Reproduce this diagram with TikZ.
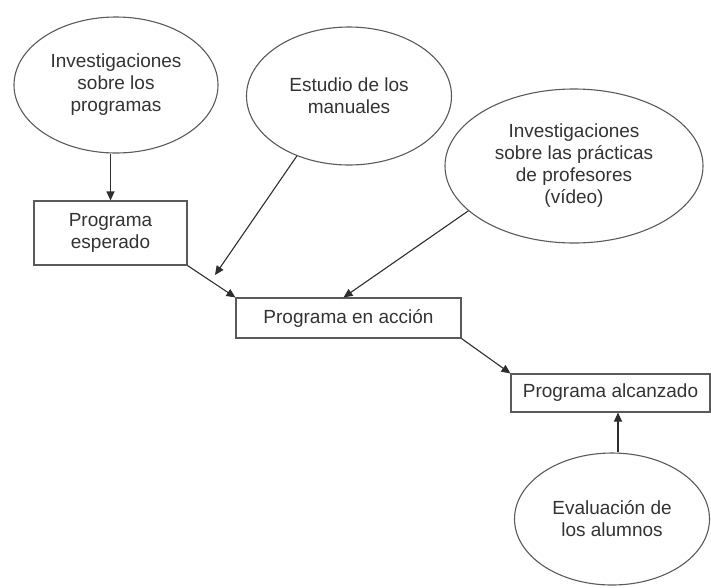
\documentclass[tikz,border=0pt]{standalone}
\usepackage{fontspec}
\setmainfont{Liberation Sans}
\usepackage{xcolor}
\definecolor{ink}{HTML}{333333}
\definecolor{frame}{HTML}{5A5A5A}
\definecolor{arrowc}{HTML}{2E2E2E}
\usepackage{tikz}
\usetikzlibrary{arrows.meta,positioning,shapes.geometric,calc}
\tikzset{>={Triangle[length=9pt,width=8pt]},
  bubble/.style={ellipse,draw=frame,line width=1.1pt,align=center,inner sep=0pt,
    text=ink,font=\fontsize{19}{22}\selectfont},
  box/.style={rectangle,draw=frame,line width=1.1pt,align=center,inner sep=0pt,
    text=ink,font=\fontsize{19}{22}\selectfont},
  flow/.style={->,line width=1.1pt,arrowc}}

\begin{document}
\begin{tikzpicture}[x=1pt,y=-1pt]
  \useasboundingbox (0,0) rectangle (711,587);
  % sources
  \node[bubble,minimum width=204pt,minimum height=136pt] (progs) at (116,85)
    {Investigaciones\\sobre los\\programas};
  \node[bubble,minimum width=205pt,minimum height=138pt] (manu) at (349,96)
    {Estudio de los\\manuales};
  \node[bubble,minimum width=258pt,minimum height=154pt] (prof) at (574,166)
    {Investigaciones\\sobre las prácticas\\de profesores\\(vídeo)};
  \node[bubble,minimum width=195pt,minimum height=132pt] (eval) at (612,519)
    {Evaluación de\\los alumnos};
  % programs
  \node[box,minimum width=153pt,minimum height=64pt] (esp) at (110.5,233)
    {Programa\\esperado};
  \node[box,minimum width=225pt,minimum height=40pt] (acc) at (348.5,318)
    {Programa en acción};
  \node[box,minimum width=199pt,minimum height=38pt] (alc) at (610.5,393)
    {Programa alcanzado};
  \coordinate (manuend) at (215,275);
  % arrows
  \draw[flow] (progs.south -| esp.north) -- (esp.north);
  \draw[flow] (manu.229) -- (manuend);
  \draw[flow] (prof.203) -- ([xshift=-5pt]acc.north);
  \draw[flow] (esp.south east) -- (acc.north west);
  \draw[flow] (acc.south east) -- (alc.north west);
  \draw[flow] ([xshift=6pt]eval.north) -- ([xshift=6pt]eval.north |- alc.south);
\end{tikzpicture}
\end{document}
